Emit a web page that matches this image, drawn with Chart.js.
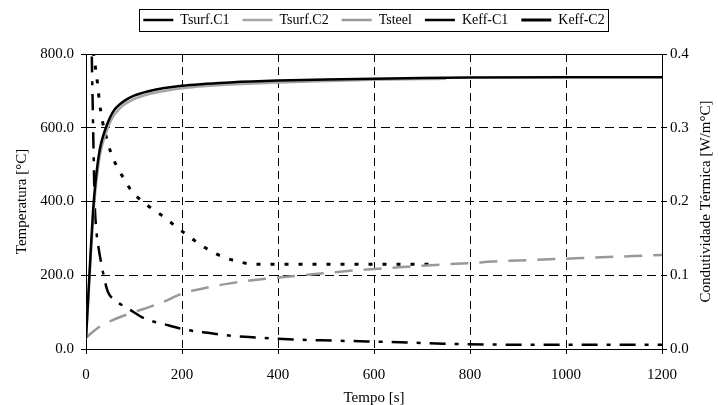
<!DOCTYPE html>
<html>
<head>
<meta charset="utf-8">
<script src="https://cdn.jsdelivr.net/npm/chart.js@4"></script>
<style>
  html, body { margin: 0; padding: 0; background: #fff; }
  #wrap { width: 718px; height: 405px; position: relative; }
</style>
</head>
<body>
<div id="wrap"><canvas id="myChart"></canvas></div>
<script>
// surface temperature, case 1 (s, degC)
const surf1Time = [0, 5, 10, 15, 20, 25, 30, 40, 50, 60, 70, 80, 100, 130, 160, 200, 250, 300, 400, 500, 600, 700, 800, 1000, 1200];
const surf1Temp = [30, 150, 270, 380, 455, 510, 550, 595, 628, 650, 663, 673, 687, 699, 707, 714, 719, 723, 728, 731, 733, 735, 736, 737, 737];

// surface temperature, case 2
const surf2Time = [0, 5, 10, 15, 20, 25, 30, 40, 50, 60, 70, 80, 100, 130, 160, 200, 250, 300, 400, 500, 600, 700, 750];
const surf2Temp = [30, 135, 255, 360, 435, 490, 532, 580, 614, 637, 652, 663, 678, 691, 699, 707, 713, 717, 723, 727, 730, 732, 733];

// steel temperature
const steelTime = [0, 10, 30, 50, 70, 100, 130, 160, 200, 250, 300, 370, 430, 500, 550, 620, 680, 740, 800, 860, 920, 980, 1040, 1100, 1160, 1200];
const steelTemp = [30, 42, 62, 75, 86, 100, 113, 127, 150, 166, 178, 190, 197, 206, 212, 219, 224, 229, 233, 238, 241, 244, 247, 250, 253, 255];

// effective conductivity (W/m.degC)
const keff1Time = [10, 12, 14, 16, 18, 21, 26, 33, 40, 46, 60, 74, 92, 123, 161, 204, 258, 303, 352, 397, 446, 491, 585, 681, 745, 850, 1000, 1200];
const keff1Val = [0.5, 0.40, 0.33, 0.26, 0.20, 0.165, 0.138, 0.112, 0.09, 0.077, 0.066, 0.060, 0.053, 0.041, 0.034, 0.0266, 0.0216, 0.018, 0.0157, 0.0139, 0.0126, 0.0117, 0.0103, 0.0085, 0.0072, 0.006, 0.0058, 0.0058];

const keff2Time = [12, 16, 20, 24, 28, 34, 42, 52, 64, 78, 93, 112, 140, 165, 189, 210, 235, 262, 289, 321, 345, 400, 500, 600, 720];
const keff2Val = [0.46, 0.40, 0.38, 0.36, 0.335, 0.31, 0.288, 0.266, 0.248, 0.232, 0.216, 0.203, 0.189, 0.178, 0.165, 0.155, 0.143, 0.132, 0.124, 0.118, 0.115, 0.115, 0.115, 0.115, 0.115];

const seriesNames = ['Tsurf.C1', 'Tsurf.C2', 'Tsteel', 'Keff-C1', 'Keff-C2'];

const xTitle = 'Tempo [s]';
const yTitle = 'Temperatura [°C]';
const y2Title = 'Condutividade Térmica [W/m°C]';

const serif = '"Liberation Serif", "Times New Roman", serif';
Chart.defaults.font.family = serif;
Chart.defaults.font.size = 15;
Chart.defaults.color = '#000';

function pts(xs, ys) {
  return xs.map((x, i) => ({ x: x, y: ys[i] }));
}

// box around the legend entries
const legendFrame = {
  id: 'legendFrame',
  afterDraw(chart) {
    const boxes = chart.legend && chart.legend.legendHitBoxes;
    if (!boxes || !boxes.length) return;
    const left = Math.min(...boxes.map(b => b.left)) - 4;
    const right = Math.max(...boxes.map(b => b.left + b.width)) + 4;
    const top = boxes[0].top - 4;
    const ctx = chart.ctx;
    ctx.save();
    ctx.strokeStyle = '#000';
    ctx.lineWidth = 1;
    ctx.strokeRect(Math.round(left) + 0.5, Math.round(top) + 0.5, Math.round(right - left), boxes[0].height + 8);
    ctx.restore();
  }
};

// right axis title, read bottom to top
const rightTitle = {
  id: 'rightTitle',
  afterDraw(chart) {
    const a = chart.chartArea;
    const ctx = chart.ctx;
    ctx.save();
    ctx.translate(706, (a.top + a.bottom) / 2);
    ctx.rotate(-Math.PI / 2);
    ctx.font = '15px ' + serif;
    ctx.fillStyle = '#000';
    ctx.textAlign = 'center';
    ctx.textBaseline = 'middle';
    ctx.fillText(y2Title, 0, 0);
    ctx.restore();
  }
};

var ctx = document.getElementById('myChart').getContext('2d');

var myChart = new Chart(ctx, {
  type: 'line',
  data: {
    datasets: [
      { label: seriesNames[0], data: pts(surf1Time, surf1Temp), yAxisID: 'y',
        borderColor: '#000', backgroundColor: '#000', borderWidth: 2.5 },
      { label: seriesNames[1], data: pts(surf2Time, surf2Temp), yAxisID: 'y',
        borderColor: '#a6a6a6', backgroundColor: '#a6a6a6', borderWidth: 2.5 },
      { label: seriesNames[2], data: pts(steelTime, steelTemp), yAxisID: 'y',
        borderColor: '#999', backgroundColor: '#999', borderWidth: 2.5, borderDash: [18, 11] },
      { label: seriesNames[3], data: pts(keff1Time, keff1Val), yAxisID: 'y2',
        borderColor: '#000', backgroundColor: '#000', borderWidth: 2.5, borderDash: [16, 9, 4, 9] },
      { label: seriesNames[4], data: pts(keff2Time, keff2Val), yAxisID: 'y2',
        borderColor: '#000', backgroundColor: '#000', borderWidth: 3, borderDash: [4, 10] }
    ]
  },
  options: {
    responsive: true,
    maintainAspectRatio: false,
    animation: false,
    layout: { padding: { top: 0, left: 0, right: 0, bottom: 0 } },
    elements: {
      point: { radius: 0 },
      line: { cubicInterpolationMode: 'monotone', fill: false }
    },
    scales: {
      x: {
        type: 'linear',
        min: 0,
        max: 1200,
        ticks: { stepSize: 200, padding: 12, maxRotation: 0, callback: v => String(v) },
        grid: {
          color: c => (c.tick && (c.tick.value === 0 || c.tick.value === 1200)) ? 'rgba(0,0,0,0)' : '#000',
          lineWidth: 1,
          tickLength: 5,
          tickColor: '#000',
          tickBorderDash: []
        },
        border: { display: true, color: '#000', width: 1, dash: [8, 5] },
        title: { display: true, text: xTitle, padding: { top: 0, bottom: -2 } },
        afterFit: s => { s.height = 56; }
      },
      y: {
        position: 'left',
        min: 0,
        max: 800,
        ticks: { stepSize: 200, padding: 7, callback: v => v.toFixed(1) },
        grid: {
          color: c => (c.tick && c.tick.value === 0) ? 'rgba(0,0,0,0)' : '#000',
          lineWidth: 1,
          tickLength: 5,
          tickColor: '#000',
          tickBorderDash: []
        },
        border: {
          display: true, color: '#000', width: 1,
          dash: c => (c.tick && c.tick.value === 800) ? [] : [9, 5]
        },
        title: { display: true, text: yTitle, padding: { top: 13, bottom: 0 } },
        afterFit: s => { s.width = 86; }
      },
      y2: {
        position: 'right',
        min: 0,
        max: 0.4,
        ticks: { stepSize: 0.1, padding: 3, callback: v => v.toFixed(1) },
        grid: {
          drawOnChartArea: false,
          color: '#000',
          tickLength: 5,
          tickColor: '#000',
          tickBorderDash: []
        },
        border: { display: true, color: '#000', width: 1 },
        afterFit: s => { s.width = 56; }
      }
    },
    plugins: {
      legend: {
        display: true,
        position: 'top',
        fullSize: false,
        weight: 1000,
        labels: {
          usePointStyle: true,
          pointStyle: 'line',
          pointStyleWidth: 30,
          padding: 13,
          color: '#000',
          font: { family: serif, size: 14 }
        }
      },
      // empty title keeps the gap between legend and plot
      title: {
        display: true,
        text: '',
        weight: 500,
        padding: { top: 0, bottom: 5 },
        font: { size: 10 }
      },
      tooltip: { enabled: false }
    }
  },
  plugins: [legendFrame, rightTitle]
});
</script>
</body>
</html>
